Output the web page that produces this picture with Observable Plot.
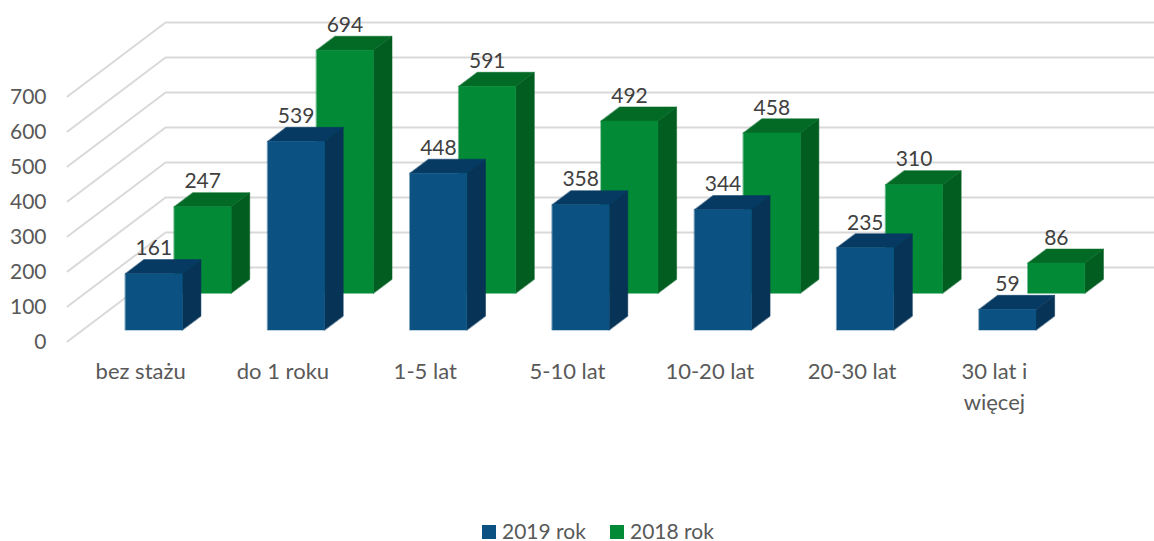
<!DOCTYPE html>
<html><head><meta charset="utf-8">
<script src="https://cdn.jsdelivr.net/npm/d3@7"></script>
<script src="https://cdn.jsdelivr.net/npm/@observablehq/plot@0.6"></script>
<style>
html,body{margin:0;padding:0;background:#fff;overflow:hidden}
svg{display:block}
#legend{position:relative;height:41px;font:21px Lato,sans-serif;color:#595959}
#legend span{position:absolute;white-space:nowrap;line-height:21px;top:20px}
#legend i{position:absolute;width:14px;height:14px;top:25px}
</style></head><body>
<div id="chart"></div>
<div id="legend">
<i style="left:482px;background:#0b5283"></i><span style="left:502px">2019 rok</span>
<i style="left:610px;background:#028a36"></i><span style="left:630px">2018 rok</span>
</div>
<script>
const categories = ["bez stażu","do 1 roku","1-5 lat","5-10 lat","10-20 lat","20-30 lat","30 lat i\nwięcej"];
const values2019 = [161,539,448,358,344,235,59];
const values2018 = [247,694,591,492,458,310,86];
const ticks = [0,100,200,300,400,500,600,700];
const faceKeys = ["2019 front","2019 top","2019 side","2018 front","2018 top","2018 side"];
const faceColors = ["#0b5283","#063a63","#063356","#028a36","#036a26","#015d20"];

// Oblique projection of the 3-D chart into the two scales
const shiftX = 0.689;   // category units per full floor depth
const shiftY = 211.4;   // value units per full floor depth
const barLeft = 0.3, barRight = 0.7, barDepth = 0.19;
const depth2019 = 0.155, depth2018 = 0.653;
const px = (u, d) => u + d * shiftX;
const py = (v, d) => v + d * shiftY;

const faces = [];
function addBars(year, values, d0) {
  const d1 = d0 + barDepth;
  values.forEach((v, i) => {
    const a = i + barLeft, b = i + barRight;
    const poly = (face, pts) => pts.forEach(([u, h, d]) =>
      faces.push({id: `${year}-${i}-${face}`, key: `${year} ${face}`, x: px(u, d), y: py(h, d)}));
    poly("side",  [[b,0,d0],[b,v,d0],[b,v,d1],[b,0,d1]]);
    poly("top",   [[a,v,d0],[b,v,d0],[b,v,d1],[a,v,d1]]);
    poly("front", [[a,0,d0],[b,0,d0],[b,v,d0],[a,v,d0]]);
  });
}
addBars(2018, values2018, depth2018);
addBars(2019, values2019, depth2019);

const grid = ticks.flatMap(t => [
  {t, x: px(0,0), y: py(t,0)},
  {t, x: px(0,1), y: py(t,1)},
  {t, x: px(6.95,1), y: py(t,1)}
]);
const labels = [
  ...values2018.map((v,i)=>({v, x: px(i+0.5,depth2018), y: py(v,depth2018)})),
  ...values2019.map((v,i)=>({v, x: px(i+0.5,depth2019), y: py(v,depth2019)}))
];

const font = "Lato, sans-serif";
const plot = Plot.plot({
  width: 1154, height: 500, margin: 0,
  style: {background: "#fff", fontFamily: font},
  x: {type: "linear", domain: [0,7], range: [67,1063], axis: null},
  y: {type: "linear", domain: [0,700], range: [341,96], axis: null},
  color: {type: "ordinal", domain: faceKeys, range: faceColors},
  marks: [
    Plot.line(grid, {x:"x", y:"y", z:"t", stroke:"#d9d9d9", strokeWidth:2, curve:"linear"}),
    Plot.line(faces, {x:"x", y:"y", z:"id", fill:"key", stroke:"key", strokeWidth:0.5, curve:"linear-closed"}),
    Plot.text(ticks, {x:()=>0, y:d=>d, text:d=>String(d), dx:-21, dy:1, textAnchor:"end", fontSize:21, fill:"#595959"}),
    Plot.text(categories, {x:(d,i)=>i+0.5, y:()=>0, text:d=>d, dx:2, dy:16, lineAnchor:"top", lineHeight:1.4, textAnchor:"middle", fontSize:22, fill:"#595959"}),
    Plot.text(labels, {x:"x", y:"y", text:d=>String(d.v), dy:-25, fontSize:21, fill:"#404040"})
  ]
});
document.getElementById("chart").append(plot);
</script></body></html>
